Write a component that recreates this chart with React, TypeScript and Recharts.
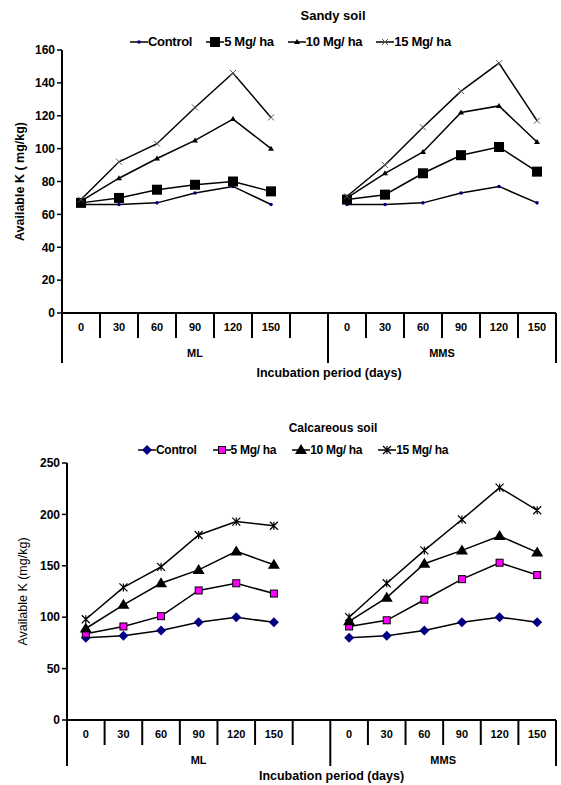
import { LineChart, Line, XAxis, YAxis, Legend } from "recharts";

const days = ["0", "30", "60", "90", "120", "150"];
const groups = ["ML", "MMS"];
const seriesNames = ["Control", "5 Mg/ ha", "10 Mg/ ha", "15 Mg/ ha"];

// Sandy soil, available K (mg/kg)
const sandyControlML = [66, 66, 67, 73, 77, 66];
const sandyControlMMS = [66, 66, 67, 73, 77, 67];
const sandy5ML = [67, 70, 75, 78, 80, 74];
const sandy5MMS = [69, 72, 85, 96, 101, 86];
const sandy10ML = [68, 82, 94, 105, 118, 100];
const sandy10MMS = [70, 85, 98, 122, 126, 104];
const sandy15ML = [69, 92, 103, 125, 146, 119];
const sandy15MMS = [71, 90, 113, 135, 152, 117];
const sandyTicks = [0, 20, 40, 60, 80, 100, 120, 140, 160];

// Calcareous soil, available K (mg/kg)
const calcControlML = [80, 82, 87, 95, 100, 95];
const calcControlMMS = [80, 82, 87, 95, 100, 95];
const calc5ML = [84, 91, 101, 126, 133, 123];
const calc5MMS = [91, 97, 117, 137, 153, 141];
const calc10ML = [89, 112, 133, 146, 164, 151];
const calc10MMS = [96, 119, 152, 165, 179, 163];
const calc15ML = [98, 129, 149, 180, 193, 189];
const calc15MMS = [100, 133, 165, 195, 226, 204];
const calcTicks = [0, 50, 100, 150, 200, 250];

const keys = ["s0", "s1", "s2", "s3"];

type Row = { id: string; day: string; [k: string]: any };

// ML block, one empty slot, MMS block
function buildRows(ml: number[][], mms: number[][]): Row[] {
  const rows: Row[] = [];
  days.forEach((d, i) => {
    const r: Row = { id: `ML-${d}`, day: d };
    keys.forEach((k, j) => (r[k] = ml[j][i]));
    rows.push(r);
  });
  rows.push({ id: "gap", day: "" });
  days.forEach((d, i) => {
    const r: Row = { id: `MMS-${d}`, day: d };
    keys.forEach((k, j) => (r[k] = mms[j][i]));
    rows.push(r);
  });
  return rows;
}

const sandyRows = buildRows(
  [sandyControlML, sandy5ML, sandy10ML, sandy15ML],
  [sandyControlMMS, sandy5MMS, sandy10MMS, sandy15MMS]
);
const calcRows = buildRows(
  [calcControlML, calc5ML, calc10ML, calc15ML],
  [calcControlMMS, calc5MMS, calc10MMS, calc15MMS]
);

const FONT = '"Liberation Sans", Arial, sans-serif';

function Marker({ kind, cx, cy }: { kind: string; cx: number; cy: number }) {
  switch (kind) {
    case "dot":
      return <circle cx={cx} cy={cy} r={1.8} fill="#000080" />;
    case "bigSquare":
      return <rect x={cx - 5} y={cy - 5} width={10} height={10} fill="#000" />;
    case "smallTri":
      return <path d={`M${cx},${cy - 3}L${cx + 3},${cy + 2}L${cx - 3},${cy + 2}Z`} fill="#000" />;
    case "smallX":
      return (
        <path
          d={`M${cx - 3},${cy - 3}L${cx + 3},${cy + 3}M${cx - 3},${cy + 3}L${cx + 3},${cy - 3}`}
          stroke="#555"
          strokeWidth={1}
        />
      );
    case "diamond":
      return <path d={`M${cx},${cy - 5}L${cx + 5},${cy}L${cx},${cy + 5}L${cx - 5},${cy}Z`} fill="#000080" />;
    case "pinkSquare":
      return (
        <rect x={cx - 3.5} y={cy - 3.5} width={7} height={7} fill="#ff00ff" stroke="#000" strokeWidth={1} />
      );
    case "tri":
      return <path d={`M${cx},${cy - 6}L${cx + 6},${cy + 4}L${cx - 6},${cy + 4}Z`} fill="#000" />;
    case "star":
      return (
        <path
          d={`M${cx - 4},${cy - 4}L${cx + 4},${cy + 4}M${cx - 4},${cy + 4}L${cx + 4},${cy - 4}M${cx},${cy - 4}L${cx},${cy + 4}`}
          stroke="#000"
          strokeWidth={1.2}
        />
      );
    default:
      return null;
  }
}

function makeTick(band: number, rows: Row[], longLen: number) {
  return (props: any) => {
    const { x, y, payload } = props;
    const index = rows.findIndex((r) => r.id === payload.value);
    const row = rows[index];
    const long = index === 0 || index === 7;
    const left = x - band / 2;
    return (
      <g>
        <line x1={left} x2={left} y1={y} y2={y + (long ? longLen : 25)} stroke="#000" strokeWidth={2} />
        {index === rows.length - 1 && (
          <line x1={x + band / 2} x2={x + band / 2} y1={y} y2={y + longLen} stroke="#000" strokeWidth={2} />
        )}
        <text x={x} y={y + 18} textAnchor="middle" fontSize={11} fontWeight="bold" fill="#000">
          {row ? row.day : ""}
        </text>
        {index === 3 && (
          <text x={x} y={y + 44} textAnchor="middle" fontSize={11} fontWeight="bold" fill="#000">
            {groups[0]}
          </text>
        )}
        {index === 9 && (
          <text x={x + band / 2} y={y + 44} textAnchor="middle" fontSize={11} fontWeight="bold" fill="#000">
            {groups[1]}
          </text>
        )}
      </g>
    );
  };
}

type ChartProps = {
  title: string;
  titleSize: number;
  rows: Row[];
  ticks: number[];
  yLabel: string;
  yLabelBold: boolean;
  markers: string[];
  legendSize: number;
  legendGap: number;
  legendLeft: number;
  titleTop: number;
  rowGap: number;
  height: number;
  marginTop: number;
  marginBottom: number;
  yWidth: number;
  longLen: number;
  xTitleOffset: number;
};

function SoilChart(p: ChartProps) {
  const band = (561 - 5 - p.yWidth) / 13;
  const legend = () => (
    <div style={{ width: 561, fontFamily: FONT, color: "#000" }}>
      <div style={{ textAlign: "center", paddingLeft: 105, fontWeight: "bold", fontSize: p.titleSize, lineHeight: "18px" }}>
        {p.title}
      </div>
      <div
        style={{
          display: "flex",
          gap: p.legendGap,
          paddingLeft: p.legendLeft,
          marginTop: p.rowGap,
          fontWeight: "bold",
          fontSize: p.legendSize,
          lineHeight: "16px",
          letterSpacing: -0.3,
        }}
      >
        {seriesNames.map((n, i) => (
          <div key={n} style={{ display: "flex", alignItems: "center" }}>
            <svg width={18} height={12}>
              <line x1={0} x2={18} y1={6} y2={6} stroke="#000" strokeWidth={1.5} />
              <Marker kind={p.markers[i]} cx={9} cy={6} />
            </svg>
            <span>{n}</span>
          </div>
        ))}
      </div>
    </div>
  );
  return (
    <LineChart
      width={561}
      height={p.height}
      data={p.rows}
      margin={{ top: p.marginTop, right: 5, bottom: p.marginBottom, left: 0 }}
      style={{ fontFamily: FONT }}
    >
      <Legend
        layout="horizontal"
        verticalAlign="middle"
        align="center"
        content={legend}
        wrapperStyle={{ top: p.titleTop, left: 0, width: 561 }}
      />
      <XAxis
        dataKey="id"
        interval={0}
        height={60}
        tickLine={false}
        tickSize={0}
        tickMargin={0}
        axisLine={{ stroke: "#000", strokeWidth: 2 }}
        padding={{ left: band / 2, right: band / 2 }}
        tick={makeTick(band, p.rows, p.longLen)}
        label={{
          value: "Incubation period (days)",
          position: "insideBottom",
          offset: p.xTitleOffset,
          dx: 20,
          style: { fontSize: 12.5, fontWeight: "bold", fill: "#000" },
        }}
      />
      <YAxis
        width={p.yWidth}
        domain={[p.ticks[0], p.ticks[p.ticks.length - 1]]}
        ticks={p.ticks}
        interval={0}
        tickSize={5}
        tickLine={{ stroke: "#000", strokeWidth: 1.5 }}
        axisLine={{ stroke: "#000", strokeWidth: 2 }}
        tick={{ fontSize: 12, fontWeight: "bold", fill: "#000" }}
        label={{
          value: p.yLabel,
          angle: -90,
          position: "center",
          dx: -11,
          style: { fontSize: 12.5, fontWeight: p.yLabelBold ? "bold" : "normal", fill: "#000" },
        }}
      />
      {keys.map((k, i) => (
        <Line
          key={k}
          dataKey={k}
          name={seriesNames[i]}
          stroke="#000"
          strokeWidth={1.5}
          isAnimationActive={false}
          dot={(d: any) =>
            d.cy == null ? (
              <g key={`${k}-${d.index}`} />
            ) : (
              <g key={`${k}-${d.index}`}>
                <Marker kind={p.markers[i]} cx={d.cx} cy={d.cy} />
              </g>
            )
          }
          activeDot={false}
        />
      ))}
    </LineChart>
  );
}

export default function App() {
  return (
    <div
      style={{
        position: "absolute",
        left: 0,
        top: 0,
        width: 561,
        height: 785,
        background: "#fff",
        fontFamily: FONT,
      }}
    >
      <div style={{ position: "absolute", left: 0, top: 0 }}>
        <SoilChart
          title="Sandy soil"
          titleSize={13}
          rows={sandyRows}
          ticks={sandyTicks}
          yLabel="Available K ( mg/kg)"
          yLabelBold
          markers={["dot", "bigSquare", "smallTri", "smallX"]}
          legendSize={13}
          legendGap={14}
          legendLeft={130}
          titleTop={7}
          rowGap={9}
          height={390}
          marginTop={50}
          marginBottom={17}
          yWidth={62}
          longLen={50}
          xTitleOffset={-4}
        />
      </div>
      <div style={{ position: "absolute", left: 0, top: 400 }}>
        <SoilChart
          title="Calcareous soil"
          titleSize={12}
          rows={calcRows}
          ticks={calcTicks}
          yLabel="Available K (mg/kg)"
          yLabelBold={false}
          markers={["diamond", "pinkSquare", "tri", "star"]}
          legendSize={12}
          legendGap={16}
          legendLeft={138}
          titleTop={19}
          rowGap={5}
          height={385}
          marginTop={63}
          marginBottom={5}
          yWidth={67}
          longLen={46}
          xTitleOffset={0}
        />
      </div>
    </div>
  );
}
